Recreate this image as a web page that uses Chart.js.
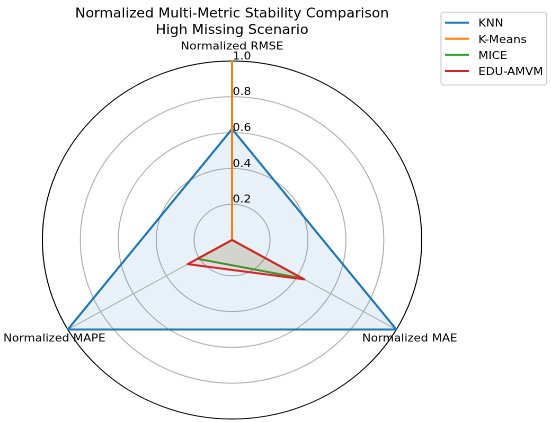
<!DOCTYPE html>
<html><head><meta charset="utf-8">
<script src="https://cdn.jsdelivr.net/npm/chart.js@4.4.1/dist/chart.umd.min.js"></script>
<style>
html,body{margin:0;padding:0;background:#fff;overflow:hidden;width:551px;height:422px}
#wrap{position:absolute;left:0;top:0;width:520px;height:422px;transform:scaleX(1.0596);transform-origin:0 0}
</style></head>
<body><div id="wrap"><canvas id="c"></canvas></div>
<script>
// ---- data ----
const categories = ['Normalized RMSE', 'Normalized MAE', 'Normalized MAPE'];
const seriesNames = ['KNN', 'K-Means', 'MICE', 'EDU-AMVM'];
const knn = [0.62, 1.0, 1.0];
const kmeans = [1.0, 0.0, 0.0];
const mice = [0.0, 0.43, 0.21];
const eduAmvm = [0.0, 0.44, 0.27];
const tickValues = [0.2, 0.4, 0.6, 0.8, 1.0];
const tickLabels = ['0.2', '0.4', '0.6', '0.8', '1.0'];
const titleLines = ['Normalized Multi-Metric Stability Comparison', 'High Missing Scenario'];

// ---- styles ----
const lineColors = ['#1f77b4', '#ff7f0e', '#2ca02c', '#d62728'];
const fillColors = ['rgba(31,119,180,0.1)', 'rgba(255,127,14,0.1)', 'rgba(44,160,44,0.1)', 'rgba(214,39,40,0.1)'];
const seriesValues = [knn, kmeans, mice, eduAmvm];
const STRETCH = 551 / 520;
const FONT = "'DejaVu Sans', 'Liberation Sans', sans-serif";

const overlay = {
  id: 'overlay',
  afterDraw(chart) {
    const ctx = chart.ctx, sc = chart.scales.r;
    ctx.save();
    ctx.fillStyle = '#000';
    ctx.textBaseline = 'alphabetic';
    // title
    ctx.font = `13.1px ${FONT}`;
    ctx.textAlign = 'center';
    ctx.fillText(titleLines[0], sc.xCenter, 17.3);
    ctx.fillText(titleLines[1], sc.xCenter, 34);
    // radial tick labels
    ctx.font = `11px ${FONT}`;
    ctx.textAlign = 'left';
    tickValues.forEach((v, i) => {
      const d = sc.getDistanceFromCenterForValue(v);
      ctx.fillText(tickLabels[i], sc.xCenter + 0.5, sc.yCenter - d - 1.6);
    });
    // category labels
    ctx.textAlign = 'center';
    categories.forEach((c, i) => {
      const p = sc.getPointPosition(i, sc.drawingArea);
      const x = p.x + Math.cos(p.angle) * 15.5 / STRETCH;
      const y = p.y + Math.sin(p.angle) * 15.5 + 4;
      ctx.fillText(c, x, y);
    });
    // legend
    const bx = 416.2, by = 12.3, bw = 99.7, bh = 72.7, rr = 2.5;
    ctx.beginPath();
    ctx.moveTo(bx + rr, by);
    ctx.arcTo(bx + bw, by, bx + bw, by + bh, rr);
    ctx.arcTo(bx + bw, by + bh, bx, by + bh, rr);
    ctx.arcTo(bx, by + bh, bx, by, rr);
    ctx.arcTo(bx, by, bx + bw, by, rr);
    ctx.closePath();
    ctx.fillStyle = 'rgba(255,255,255,0.8)';
    ctx.fill();
    ctx.strokeStyle = '#cccccc';
    ctx.lineWidth = 1;
    ctx.stroke();
    ctx.textAlign = 'left';
    chart.data.datasets.forEach((ds, i) => {
      const y = 22.7 + i * 16.1;
      ctx.beginPath();
      ctx.moveTo(420, y);
      ctx.lineTo(442.6, y);
      ctx.strokeStyle = ds.borderColor;
      ctx.lineWidth = 2;
      ctx.stroke();
      ctx.fillStyle = '#000';
      ctx.fillText(ds.label, 451.4, y + 4);
    });
    ctx.restore();
  }
};

new Chart(document.getElementById('c'), {
  type: 'radar',
  data: {
    labels: categories,
    datasets: seriesNames.map((n, i) => ({
      label: n,
      data: seriesValues[i],
      borderColor: lineColors[i],
      backgroundColor: fillColors[i],
      borderWidth: 2,
      pointRadius: 0,
      pointHoverRadius: 0,
      fill: true,
      tension: 0,
      borderJoinStyle: 'round',
      borderCapStyle: 'round',
      order: seriesNames.length - i
    }))
  },
  options: {
    responsive: true,
    maintainAspectRatio: false,
    animation: false,
    devicePixelRatio: 2,
    events: [],
    layout: { padding: { left: 40, right: 122, top: 61, bottom: 3 } },
    plugins: { legend: { display: false }, title: { display: false }, tooltip: { enabled: false } },
    scales: {
      r: {
        min: 0,
        max: 1,
        ticks: { display: false, stepSize: 0.2 },
        pointLabels: { display: false },
        grid: {
          circular: true,
          color: (c) => (c.tick && c.tick.value >= 0.999 ? '#000000' : '#b0b0b0'),
          lineWidth: 1
        },
        angleLines: { display: true, color: '#b0b0b0', lineWidth: 1 }
      }
    }
  },
  plugins: [overlay]
});
</script>
</body></html>
